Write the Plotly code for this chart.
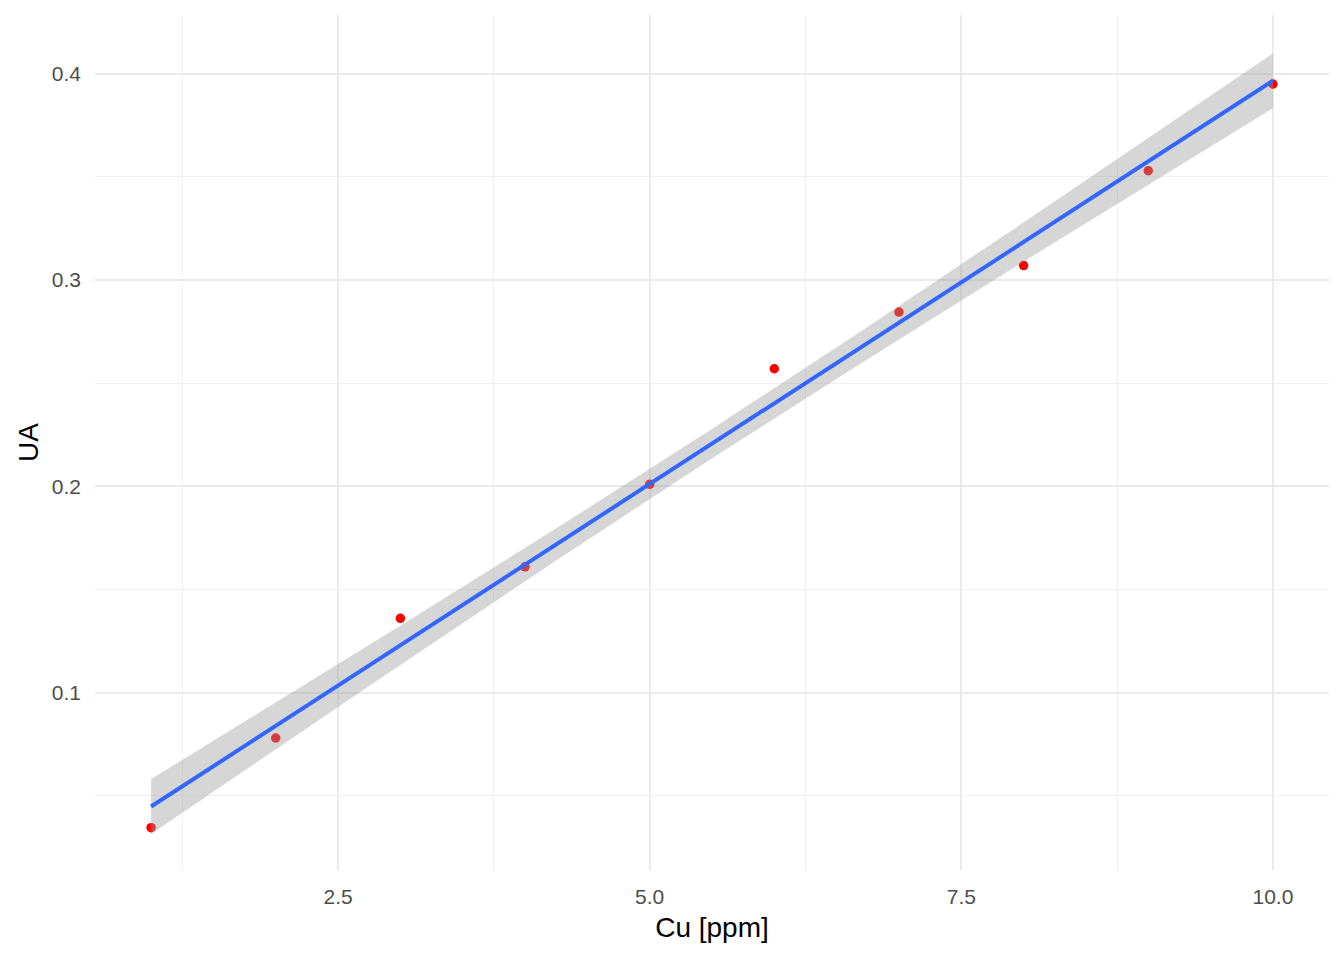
import numpy as np
import plotly.graph_objects as go

# calibration data: Cu concentration vs absorbance (UA)
cu_ppm = [1, 2, 3, 4, 5, 6, 7, 8, 9, 10]
ua = [0.0345, 0.078, 0.136, 0.161, 0.201, 0.257, 0.2845, 0.307, 0.353, 0.395]

# linear fit + 95% confidence band (like geom_smooth(method="lm"))
x = np.array(cu_ppm, dtype=float)
y = np.array(ua, dtype=float)
n = len(x)
slope, intercept = np.polyfit(x, y, 1)
resid = y - (slope * x + intercept)
s = np.sqrt(np.sum(resid ** 2) / (n - 2))
sxx = np.sum((x - x.mean()) ** 2)
t_crit = 2.306  # t(0.975, df=8)
xs = np.linspace(x.min(), x.max(), 80)
fit = slope * xs + intercept
se = s * np.sqrt(1 / n + (xs - x.mean()) ** 2 / sxx)
lower = fit - t_crit * se
upper = fit + t_crit * se

fig = go.Figure()

fig.add_trace(go.Scatter(x=cu_ppm, y=ua, mode='markers',
                         marker=dict(color='red', size=9.5), showlegend=False))

fig.add_trace(go.Scatter(x=np.concatenate([xs, xs[::-1]]),
                         y=np.concatenate([upper, lower[::-1]]),
                         mode='lines', fill='toself',
                         fillcolor='rgba(153,153,153,0.4)',
                         line=dict(width=0), showlegend=False, hoverinfo='skip'))

fig.add_trace(go.Scatter(x=xs, y=fit, mode='lines',
                         line=dict(color='#3366FF', width=4), showlegend=False))

# page body has an 8px margin, so the figure is slightly smaller than the window
fig.update_layout(
    width=1328, height=944,
    plot_bgcolor='white', paper_bgcolor='white',
    margin=dict(l=87, r=7, t=7, b=82),
    font=dict(family='Liberation Sans, Arial, sans-serif', color='black'),
)

fig.update_xaxes(
    range=[0.55, 10.45], tick0=0, dtick=2.5, tickformat='.1f',
    showgrid=True, gridcolor='#EBEBEB', gridwidth=1.6, zeroline=False,
    showline=False, ticks='', ticklabelstandoff=12,
    tickfont=dict(size=21, color='#4D4D4D'),
    minor=dict(tick0=0, dtick=1.25, showgrid=True, gridcolor='#F1F1F1', gridwidth=0.9),
    title=dict(text='Cu [ppm]', font=dict(size=28, color='black'), standoff=10),
)
fig.update_yaxes(
    range=[0.014, 0.4285], tick0=0, dtick=0.1, tickformat='.1f',
    showgrid=True, gridcolor='#EBEBEB', gridwidth=1.6, zeroline=False,
    showline=False, ticks='', ticklabelstandoff=13,
    tickfont=dict(size=21, color='#4D4D4D'),
    minor=dict(tick0=0, dtick=0.05, showgrid=True, gridcolor='#F1F1F1', gridwidth=0.9),
    title=dict(text='UA', font=dict(size=28, color='black'), standoff=4),
)

fig.write_html("out.html")
